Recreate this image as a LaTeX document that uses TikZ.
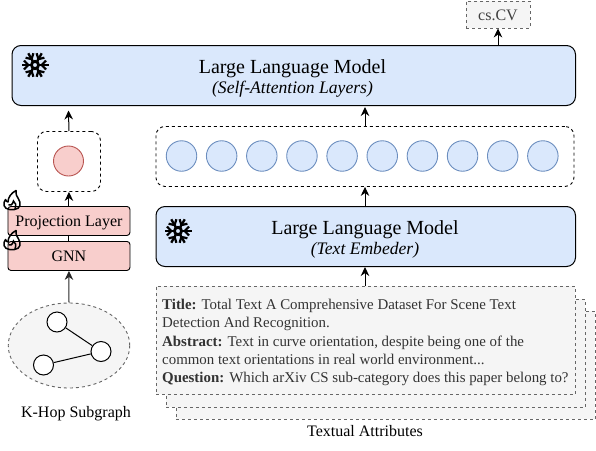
\documentclass[tikz,border=0pt]{standalone}
\usepackage{fontspec}
\setmainfont{Liberation Serif}
\usetikzlibrary{arrows.meta,shapes.geometric}
\definecolor{lblue}{HTML}{DAE8FC}
\definecolor{dblue}{HTML}{6C8EBF}
\definecolor{lred}{HTML}{F8CECC}
\definecolor{dred}{HTML}{B85450}
\definecolor{lgray}{HTML}{F5F5F5}
\definecolor{dgray}{HTML}{666666}
\tikzset{
  x=1pt,y=-1pt,
  conn/.style={draw=black,line width=1pt,-{Stealth[length=9pt,width=8.5pt]}},
  plainconn/.style={draw=black,line width=1pt},
  llmbox/.style={draw=black,line width=1pt,fill=lblue,rounded corners=9pt},
  redbox/.style={draw=black,line width=0.9pt,fill=lred,rounded corners=3pt,text height=12pt,text depth=0pt},
  dashbox/.style={draw=black,line width=0.9pt,dash pattern=on 3pt off 3pt,fill=white,rounded corners=9pt},
  graybox/.style={draw=dgray,line width=0.9pt,dash pattern=on 3pt off 3pt,fill=lgray},
  bluedot/.style={circle,draw=dblue,line width=0.9pt,fill=lblue,minimum size=30.5pt,inner sep=0pt},
  reddot/.style={circle,draw=dred,line width=0.9pt,fill=lred,minimum size=30pt,inner sep=0pt},
  gnode/.style={circle,draw=black,line width=1pt,fill=white,minimum size=20pt,inner sep=0pt},
  bigtxt/.style={font=\fontsize{20}{23}\selectfont,anchor=base,inner sep=0pt},
  subtxt/.style={font=\fontsize{17.6}{20}\selectfont\itshape,anchor=base,inner sep=0pt},
  midtxt/.style={font=\fontsize{16}{18}\selectfont},
  captxt/.style={font=\fontsize{16}{18}\selectfont},
}
\newcommand{\flake}[1]{%
  \begin{scope}[shift={#1}]
    \foreach \a in {30,90,150,210,270,330}{
      \begin{scope}[rotate=\a]
        \draw[line width=2.3pt,black] (0,3.5) -- (0,13.5);
        \draw[line width=2.2pt,black] (-4.5,11) -- (0,6.8) -- (4.5,11);
      \end{scope}
    }
    \draw[line width=2.8pt,black] (0,0) circle (3.6);
  \end{scope}}
\newcommand{\flame}[1]{%
  \begin{scope}[shift={#1}]
    \draw[line width=1.5pt,black,line join=round]
      (-3,9.5) .. controls (-9,9) and (-10,3) .. (-7,-0.5)
      .. controls (-6.5,1) and (-5.5,2) .. (-4.5,2)
      .. controls (-4.5,-3) and (-1,-7) .. (3.5,-9.5)
      .. controls (3,-6) and (4,-4) .. (6,-1)
      .. controls (9,3) and (8,9) .. (2,9.5) -- cycle;
    \draw[line width=1.5pt,black]
      (-4,5) .. controls (-2.5,6) and (0,5) .. (1,1)
      .. controls (3,2.5) and (4,5) .. (2.5,9);
  \end{scope}}
\begin{document}
\begin{tikzpicture}
\useasboundingbox (0,0) rectangle (596,450);
% stacked text boxes
\node[graybox,minimum width=419.5pt,minimum height=108pt,inner sep=0pt,anchor=north west] (s3) at (175.5,311) {};
\node[graybox,minimum width=419.5pt,minimum height=108pt,inner sep=0pt,anchor=north west] (s2) at (165.5,299) {};
\node[graybox,minimum width=419.5pt,minimum height=108pt,inner sep=0pt,anchor=north west] (s1) at (155.5,286) {};
\node[anchor=west,text=black!80,inner sep=0pt,font=\fontsize{14.9}{18.1}\selectfont,align=left] (txt) at (162,342.5) {%
  \textbf{Title:} Total Text A Comprehensive Dataset For Scene Text\\
  Detection And Recognition.\\
  \textbf{Abstract:} Text in curve orientation, despite being one of the\\
  common text orientations in real world environment...\\
  \textbf{Question:} Which arXiv CS sub-category does this paper belong to?};
\node[captxt,inner sep=0pt,anchor=base] (ta) at (365,436) {Textual Attributes};
% LLM boxes
\node[llmbox,minimum width=563.5pt,minimum height=60pt,inner sep=0pt,anchor=north west] (top) at (11.5,45) {};
\node[bigtxt] (topa) at (292.5,73) {Large Language Model};
\node[subtxt] (topb) at (292.5,93) {(Self-Attention Layers)};
\node[llmbox,minimum width=419.5pt,minimum height=60pt,inner sep=0pt,anchor=north west] (emb) at (155.5,206) {};
\node[bigtxt] (emba) at (365,234) {Large Language Model};
\node[subtxt] (embb) at (365,254) {(Text Embeder)};
\flake{(35,65)}
\flake{(178,231)}
% output
\node[graybox,minimum width=64pt,minimum height=27pt,inner sep=0pt,text=black!75,captxt,text height=12.4pt,text depth=0pt] (cv) at (498,14.5) {cs.CV};
% embedding containers
\node[dashbox,minimum width=418pt,minimum height=60pt,inner sep=0pt,anchor=north west] (cont) at (155.5,126) {};
\foreach \i in {0,...,9}{
  \node[bluedot] (b\i) at ({181.5+40.15*\i},156) {};
}
\node[dashbox,minimum width=63pt,minimum height=60pt,inner sep=0pt,anchor=north west] (gc) at (37,131) {};
\node[reddot] (rd) at (68.5,161) {};
% red boxes
\node[redbox,minimum width=122pt,minimum height=29pt,inner sep=0pt,midtxt,anchor=north west] (proj) at (7.5,206) {Projection Layer};
\node[redbox,minimum width=122pt,minimum height=29pt,inner sep=0pt,midtxt,anchor=north west] (gnn) at (7.5,241) {GNN};
% subgraph
\node[ellipse,draw=dgray,line width=0.9pt,dash pattern=on 3pt off 3pt,fill=lgray,minimum width=121.5pt,minimum height=85pt,inner sep=0pt] (sg) at (69,345.5) {};
\node[gnode] (n1) at (57,322) {};
\node[gnode] (n2) at (101,351.5) {};
\node[gnode] (n3) at (43.5,365) {};
\draw[plainconn] (n1) -- (n2);
\draw[plainconn] (n3) -- (n2);
\node[captxt,inner sep=0pt,anchor=base] (kh) at (76,417.3) {K-Hop Subgraph};
% connectors
\draw[conn] (top.north -| cv) -- (cv.south);
\coordinate (t1) at (68.5,110.5);
\draw[conn] (gc.north) -- (t1);
\draw[conn] (proj.north -| gc) -- (gc.south);
\draw[plainconn] (gnn.north) -- (proj.south);
\draw[conn,draw=black!85] (sg.north) -- (gnn.south);
\coordinate (t2) at (365,107);
\draw[conn] (t2 |- cont.north) -- (t2);
\draw[conn] (t2 |- emb.north) -- (t2 |- cont.south);
\draw[conn] (t2 |- s1.north) -- (t2 |- emb.south);
\flame{(12.5,200)}
\flame{(12.5,240)}
\end{tikzpicture}
\end{document}
